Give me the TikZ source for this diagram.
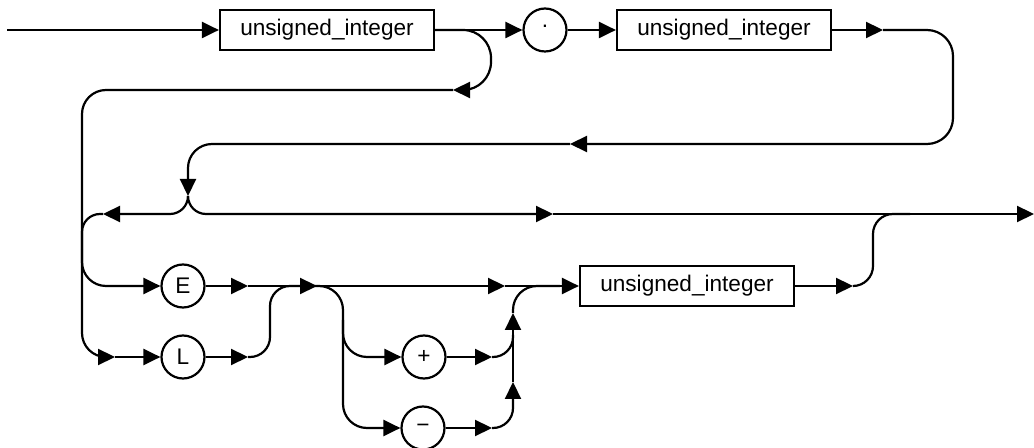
\documentclass[tikz,border=0pt]{standalone}
\usepackage{fontspec}
\setmainfont{Liberation Sans}
\usetikzlibrary{arrows.meta}

\begin{document}
\begin{tikzpicture}[x=0.5pt, y=-0.5pt, line width=1.1pt,
    arr/.style={-{Triangle[length=8.5pt, width=8pt]}},
    box/.style={draw, rectangle, minimum width=107pt, minimum height=20pt, inner sep=0pt, font=\fontsize{11.3}{13}\selectfont},
    term/.style={draw, circle, minimum size=21.5pt, inner sep=0pt, font=\fontsize{11.3}{13}\selectfont}]
      \useasboundingbox (0, 0) rectangle (1034, 448);
      \node[box] (b1) at (327, 30) {unsigned\_integer};
      \node[term] (dot) at (545, 30) {\raisebox{0.3em}{.}};
      \node[box] (b2) at (724, 30) {unsigned\_integer};
      \node[term] (E) at (183, 286) {E};
      \node[term] (L) at (183, 357) {L};
      \node[term] (plus) at (424, 357) {+};
      \node[term] (minus) at (423, 428) {−};
      \node[box] (b3) at (687, 286) {unsigned\_integer};
      \coordinate (in) at (7, 30);
      \coordinate (a1) at (883, 30);
      \coordinate (c1) at (953, 144);
      \coordinate (a2) at (570, 144);
      \coordinate (j1) at (188, 196);
      \coordinate (a3) at (103, 214);
      \coordinate (v1) at (82, 250);
      \coordinate (a15) at (553, 214);
      \coordinate (out) at (1034, 214);
      \coordinate (c2) at (491, 90);
      \coordinate (a4) at (453, 90);
      \coordinate (c3) at (82, 357);
      \coordinate (a5) at (115, 357);
      \coordinate (c5) at (82, 250);
      \coordinate (a6) at (248, 286);
      \coordinate (a7) at (248, 357);
      \coordinate (c6) at (270, 286);
      \coordinate (a8) at (317, 286);
      \coordinate (a9) at (505, 286);
      \coordinate (c8) at (343, 428);
      \coordinate (c9) at (343, 320);
      \coordinate (a10) at (492, 357);
      \coordinate (a11) at (492, 428);
      \coordinate (c10) at (513, 335);
      \coordinate (a13) at (513, 382);
      \coordinate (a12) at (513, 313);
      \coordinate (c11) at (560, 286);
      \coordinate (a14) at (853, 286);
      \coordinate (c12) at (873, 214);
      \coordinate (c13) at (910, 214);
      \draw (in) edge[arr] (b1);
      \draw (b1) edge[arr] (dot);
      \draw (dot) edge[arr] (b2);
      \draw (b2) edge[arr] (a1);
      \draw[arr, rounded corners=13pt] (a1) -| (c1) -- (a2);
      \draw[arr, rounded corners=12pt] (a2) -| (j1);
      \draw[arr, rounded corners=9pt] (j1) |- (a3);
      \draw[rounded corners=9pt] (a3) -| (v1);
      \draw[arr, rounded corners=9pt] (j1) |- (a15);
      \draw (a15) edge[arr] (out);
      \draw[arr, rounded corners=14pt] (b1) -| (c2) -- (a4);
      \draw[arr, rounded corners=12pt] (a4) -| (c3) -- (a5);
      \draw (a5) edge[arr] (L);
      \draw[arr, rounded corners=12pt] (c5) |- (E);
      \draw (E) edge[arr] (a6);
      \draw (a6) edge[arr] (a8);
      \draw (a8) edge[arr] (a9);
      \draw (a9) edge[arr] (b3);
      \draw (L) edge[arr] (a7);
      \draw[rounded corners=10pt] (a7) -| (c6) -- (a8);
      \draw[arr, rounded corners=12pt] (a8) -| (c8) -- (minus);
      \draw[arr, rounded corners=12pt] (c9) |- (plus);
      \draw (plus) edge[arr] (a10);
      \draw (minus) edge[arr] (a11);
      \draw[rounded corners=10pt] (a10) -| (c10);
      \draw[arr, rounded corners=10pt] (a11) -| (a13);
      \draw (a13) edge[arr] (a12);
      \draw[rounded corners=12pt] (a12) |- (c11);
      \draw (b3) edge[arr] (a14);
      \draw[rounded corners=10pt] (a14) -| (c12) -- (c13);
    \end{tikzpicture}
\end{document}
